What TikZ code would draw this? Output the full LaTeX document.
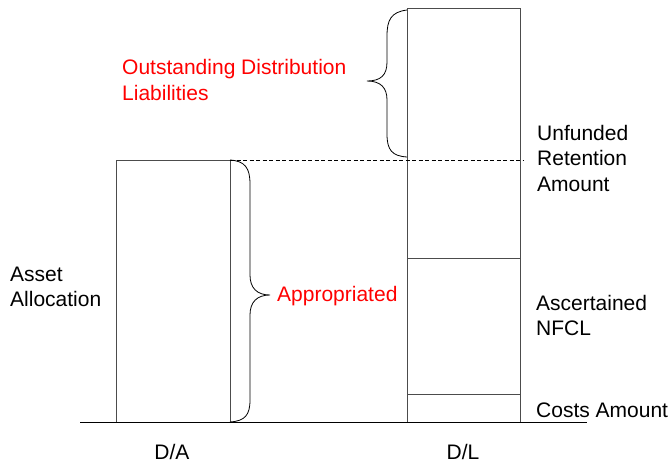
\documentclass[tikz,border=0pt]{standalone}
\usepackage{fontspec}
\setmainfont{Liberation Sans}
\begin{document}
\begin{tikzpicture}[x=1pt,y=-1pt,
  lbl/.style={font=\fontsize{21}{25.5}\selectfont, align=left, anchor=west, inner sep=0pt},
  redlbl/.style={lbl, text=red},
  barbox/.style={draw=black!70, line width=1pt},
  brc/.style={draw=black, line width=0.8pt},
  axis/.style={draw=black, line width=1pt},
  guide/.style={draw=black, line width=1pt, dash pattern=on 4pt off 2.5pt}]
\useasboundingbox (0,0) rectangle (670,464);
% bars
\draw[barbox] (116,160) rectangle (230,422);
\draw[barbox] (407,8) rectangle (520,422);
\draw[barbox] (407,258) -- (520,258);
\draw[barbox] (407,394) -- (520,394);
% baseline
\coordinate (b0) at (80,422);
\coordinate (b1) at (587,422);
\draw[axis] (b0) -- (b1);
% dashed line
\coordinate (d0) at (230,160);
\coordinate (d1) at (524,160);
\draw[guide] (d0) -- (d1);
% brace D/L
\draw[brc] (407,10) .. controls (391,12) and (387,20) .. (387,36) -- (387,62)
  .. controls (387,75) and (381,81) .. (367,81)
  .. controls (381,81) and (387,88) .. (387,100) -- (387,134)
  .. controls (387,150) and (392,156) .. (407,157);
% brace D/A
\draw[brc] (230,160) .. controls (245,161) and (250,168) .. (250,184) -- (250,275)
  .. controls (250,288) and (257,295) .. (270,295)
  .. controls (257,295) and (250,302) .. (250,315) -- (250,400)
  .. controls (250,415) and (245,421) .. (230,422);
% labels
\node[redlbl] (odl) at (122,80) {Outstanding Distribution\\Liabilities};
\node[redlbl] (app) at (277,296) {Appropriated};
\node[lbl] (aa) at (10,287) {Asset\\Allocation};
\node[lbl] (ura) at (537,158) {Unfunded\\Retention\\Amount};
\node[lbl] (nfcl) at (536,315.5) {Ascertained\\NFCL};
\node[lbl] (costs) at (536,410) {Costs Amount};
\node[lbl, anchor=center] (da) at (172,452) {D/A};
\node[lbl, anchor=center] (dl) at (463,452) {D/L};
\end{tikzpicture}
\end{document}
